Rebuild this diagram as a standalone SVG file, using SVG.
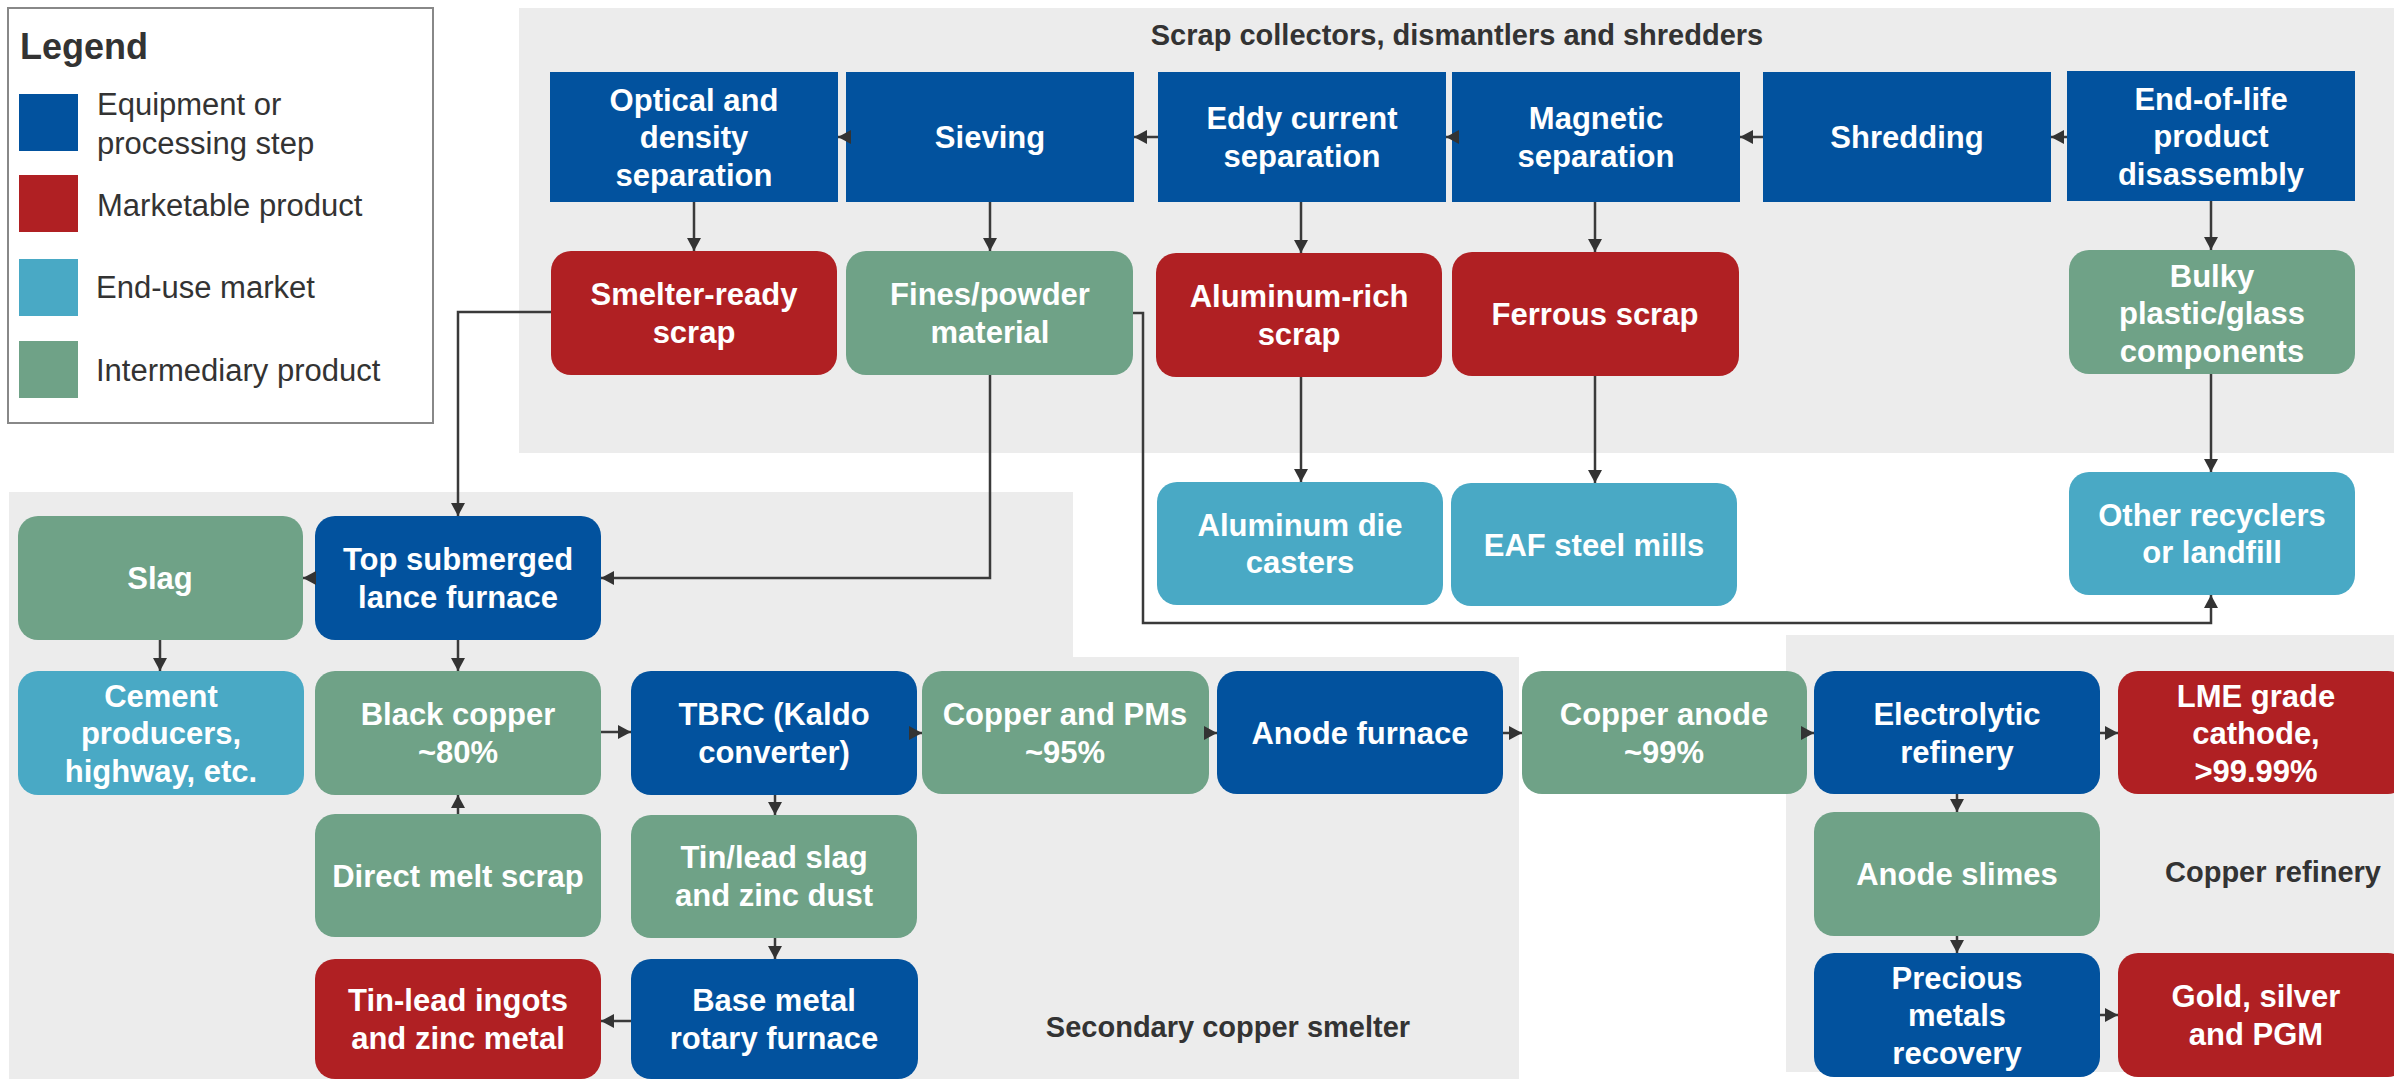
<svg xmlns="http://www.w3.org/2000/svg" width="2394" height="1079" viewBox="0 0 2394 1079">
<style>
.bg{fill:#ececec}
.blue{fill:#02529e}
.red{fill:#b02023}
.lb{fill:#49a9c5}
.green{fill:#6fa287}
.t{font-family:"Liberation Sans",Arial,sans-serif;font-weight:bold;font-size:31px;fill:#ffffff;text-anchor:middle}
.title{font-family:"Liberation Sans",Arial,sans-serif;font-weight:bold;font-size:29px;fill:#333333;text-anchor:middle}
.lg{font-family:"Liberation Sans",Arial,sans-serif;font-size:31px;fill:#333333}
.c{fill:none;stroke:#3a3a3a;stroke-width:2.5;marker-end:url(#ah)}
</style>
<defs>
<marker id="ah" markerUnits="userSpaceOnUse" markerWidth="13" markerHeight="14" refX="13" refY="7" orient="auto">
<path d="M0,0 L13,7 L0,14 z" fill="#333333"/>
</marker>
</defs>
<rect width="2394" height="1079" fill="#ffffff"/>
<g id="regions">
<rect class="bg" x="519" y="8" width="1875" height="445"/>
<path class="bg" d="M9,492 H1073 V657 H1519 V1079 H9 Z"/>
<rect class="bg" x="1786" y="635" width="608" height="437"/>
<text class="title" x="1457" y="45">Scrap collectors, dismantlers and shredders</text>
<text class="title" x="1228" y="1037">Secondary copper smelter</text>
<text class="title" x="2273" y="882">Copper refinery</text>
</g>
<g id="legend">
<rect x="8" y="8" width="425" height="415" fill="#ffffff" stroke="#888888" stroke-width="2"/>
<text x="20" y="59" font-family="Liberation Sans,Arial,sans-serif" font-weight="bold" font-size="36" fill="#333333">Legend</text>
<rect class="blue" x="19" y="94" width="59" height="57"/>
<rect class="red" x="19" y="175" width="59" height="57"/>
<rect class="lb" x="19" y="259" width="59" height="57"/>
<rect class="green" x="19" y="341" width="59" height="57"/>
<text class="lg" x="97" y="115">Equipment or</text>
<text class="lg" x="97" y="154">processing step</text>
<text class="lg" x="97" y="216">Marketable product</text>
<text class="lg" x="96" y="298">End-use market</text>
<text class="lg" x="96" y="381">Intermediary product</text>
</g>
<g id="n-optical"><rect class="blue" x="550" y="72" width="288" height="130"/><text class="t" x="694" y="110.5">Optical and</text><text class="t" x="694" y="148">density</text><text class="t" x="694" y="185.5">separation</text></g>
<g id="n-sieving"><rect class="blue" x="846" y="72" width="288" height="130"/><text class="t" x="990" y="148">Sieving</text></g>
<g id="n-eddy"><rect class="blue" x="1158" y="72" width="288" height="130"/><text class="t" x="1302" y="129">Eddy current</text><text class="t" x="1302" y="166.5">separation</text></g>
<g id="n-magnetic"><rect class="blue" x="1452" y="72" width="288" height="130"/><text class="t" x="1596" y="129">Magnetic</text><text class="t" x="1596" y="166.5">separation</text></g>
<g id="n-shredding"><rect class="blue" x="1763" y="72" width="288" height="130"/><text class="t" x="1907" y="148">Shredding</text></g>
<g id="n-eol"><rect class="blue" x="2067" y="71" width="288" height="130"/><text class="t" x="2211" y="109.5">End-of-life</text><text class="t" x="2211" y="147">product</text><text class="t" x="2211" y="184.5">disassembly</text></g>
<g id="n-smelterready"><rect class="red" x="551" y="251" width="286" height="124" rx="20"/><text class="t" x="694" y="305">Smelter-ready</text><text class="t" x="694" y="342.5">scrap</text></g>
<g id="n-fines"><rect class="green" x="846" y="251" width="287" height="124" rx="20"/><text class="t" x="990" y="305">Fines/powder</text><text class="t" x="990" y="342.5">material</text></g>
<g id="n-alrich"><rect class="red" x="1156" y="253" width="286" height="124" rx="20"/><text class="t" x="1299" y="307">Aluminum-rich</text><text class="t" x="1299" y="344.5">scrap</text></g>
<g id="n-ferrous"><rect class="red" x="1452" y="252" width="287" height="124" rx="20"/><text class="t" x="1595" y="325">Ferrous scrap</text></g>
<g id="n-bulky"><rect class="green" x="2069" y="250" width="286" height="124" rx="20"/><text class="t" x="2212" y="286.5">Bulky</text><text class="t" x="2212" y="324">plastic/glass</text><text class="t" x="2212" y="361.5">components</text></g>
<g id="n-diecasters"><rect class="lb" x="1157" y="482" width="286" height="123" rx="20"/><text class="t" x="1300" y="535.5">Aluminum die</text><text class="t" x="1300" y="573">casters</text></g>
<g id="n-eaf"><rect class="lb" x="1451" y="483" width="286" height="123" rx="20"/><text class="t" x="1594" y="555.5">EAF steel mills</text></g>
<g id="n-other"><rect class="lb" x="2069" y="472" width="286" height="123" rx="20"/><text class="t" x="2212" y="525.5">Other recyclers</text><text class="t" x="2212" y="563">or landfill</text></g>
<g id="n-slag"><rect class="green" x="18" y="516" width="285" height="124" rx="20"/><text class="t" x="160" y="589">Slag</text></g>
<g id="n-tsl"><rect class="blue" x="315" y="516" width="286" height="124" rx="20"/><text class="t" x="458" y="570">Top submerged</text><text class="t" x="458" y="607.5">lance furnace</text></g>
<g id="n-cement"><rect class="lb" x="18" y="671" width="286" height="124" rx="20"/><text class="t" x="161" y="706.5">Cement</text><text class="t" x="161" y="744">producers,</text><text class="t" x="161" y="781.5">highway, etc.</text></g>
<g id="n-blackcu"><rect class="green" x="315" y="671" width="286" height="124" rx="20"/><text class="t" x="458" y="725">Black copper</text><text class="t" x="458" y="762.5">~80%</text></g>
<g id="n-tbrc"><rect class="blue" x="631" y="671" width="286" height="124" rx="20"/><text class="t" x="774" y="725">TBRC (Kaldo</text><text class="t" x="774" y="762.5">converter)</text></g>
<g id="n-directmelt"><rect class="green" x="315" y="814" width="286" height="123" rx="20"/><text class="t" x="458" y="887">Direct melt scrap</text></g>
<g id="n-tinleadslag"><rect class="green" x="631" y="815" width="286" height="123" rx="20"/><text class="t" x="774" y="868">Tin/lead slag</text><text class="t" x="774" y="905.5">and zinc dust</text></g>
<g id="n-tinleadingots"><rect class="red" x="315" y="959" width="286" height="120" rx="20"/><text class="t" x="458" y="1011">Tin-lead ingots</text><text class="t" x="458" y="1048.5">and zinc metal</text></g>
<g id="n-basemetal"><rect class="blue" x="631" y="959" width="287" height="120" rx="20"/><text class="t" x="774" y="1011">Base metal</text><text class="t" x="774" y="1048.5">rotary furnace</text></g>
<g id="n-cupms"><rect class="green" x="922" y="671" width="287" height="123" rx="20"/><text class="t" x="1065" y="725">Copper and PMs</text><text class="t" x="1065" y="762.5">~95%</text></g>
<g id="n-anodefurnace"><rect class="blue" x="1217" y="671" width="286" height="123" rx="20"/><text class="t" x="1360" y="744">Anode furnace</text></g>
<g id="n-cuanode"><rect class="green" x="1522" y="671" width="285" height="123" rx="20"/><text class="t" x="1664" y="725">Copper anode</text><text class="t" x="1664" y="762.5">~99%</text></g>
<g id="n-electrolytic"><rect class="blue" x="1814" y="671" width="286" height="123" rx="20"/><text class="t" x="1957" y="725">Electrolytic</text><text class="t" x="1957" y="762.5">refinery</text></g>
<g id="n-lme"><rect class="red" x="2118" y="671" width="290" height="123" rx="20"/><text class="t" x="2256" y="706.5">LME grade</text><text class="t" x="2256" y="744">cathode,</text><text class="t" x="2256" y="781.5">&gt;99.99%</text></g>
<g id="n-slimes"><rect class="green" x="1814" y="812" width="286" height="124" rx="20"/><text class="t" x="1957" y="885">Anode slimes</text></g>
<g id="n-precious"><rect class="blue" x="1814" y="953" width="286" height="124" rx="20"/><text class="t" x="1957" y="988.5">Precious</text><text class="t" x="1957" y="1026">metals</text><text class="t" x="1957" y="1063.5">recovery</text></g>
<g id="n-gold"><rect class="red" x="2118" y="953" width="290" height="124" rx="20"/><text class="t" x="2256" y="1007">Gold, silver</text><text class="t" x="2256" y="1044.5">and PGM</text></g>
<g id="connectors">
<path class="c" d="M1158,137 H1134"/>
<path class="c" d="M846,137 H838"/>
<path class="c" d="M1452,137 H1446"/>
<path class="c" d="M1763,137 H1740"/>
<path class="c" d="M2067,137 H2051"/>
<path class="c" d="M694,202 V251"/>
<path class="c" d="M990,202 V251"/>
<path class="c" d="M1301,202 V253"/>
<path class="c" d="M1595,202 V252"/>
<path class="c" d="M2211,201 V250"/>
<path class="c" d="M1301,377 V482"/>
<path class="c" d="M1595,376 V483"/>
<path class="c" d="M2211,374 V472"/>
<path class="c" d="M551,312 H458 V516"/>
<path class="c" d="M990,375 V578 H601"/>
<path class="c" d="M1133,313 H1143 V623 H2211 V595"/>
<path class="c" d="M315,578 H303"/>
<path class="c" d="M160,640 V671"/>
<path class="c" d="M458,640 V671"/>
<path class="c" d="M601,732 H631"/>
<path class="c" d="M458,814 V795"/>
<path class="c" d="M775,795 V815"/>
<path class="c" d="M775,938 V959"/>
<path class="c" d="M631,1021 H601"/>
<path class="c" d="M917,733 H922"/>
<path class="c" d="M1209,733 H1217"/>
<path class="c" d="M1503,733 H1522"/>
<path class="c" d="M1807,733 H1814"/>
<path class="c" d="M2100,733 H2118"/>
<path class="c" d="M1957,794 V812"/>
<path class="c" d="M1957,936 V953"/>
<path class="c" d="M2100,1015 H2118"/>
</g>
</svg>
